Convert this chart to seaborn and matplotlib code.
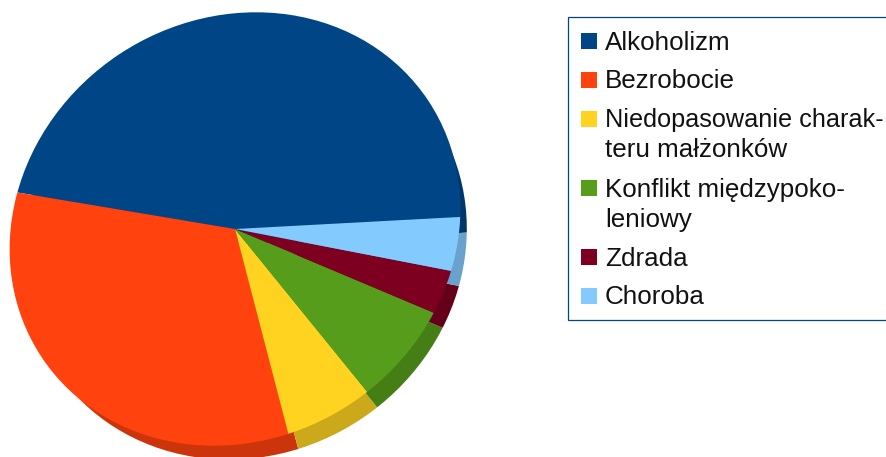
#!/usr/bin/env python3
"""
Pie chart with a fake 3D rim and a hand-placed legend box.
"""

import numpy as np
import matplotlib
matplotlib.use('Agg')
import matplotlib.pyplot as plt
import seaborn as sns
from matplotlib.patches import Ellipse, Rectangle

# Data
categories = ['Alkoholizm', 'Bezrobocie', 'Niedopasowanie charak-\nteru małżonków',
              'Konflikt międzypoko-\nleniowy', 'Zdrada', 'Choroba']
shares = [46.5, 31.7, 6.8, 7.8, 3.3, 3.9]
colors = ['#004586', '#ff420e', '#ffd320', '#579d1c', '#7e0021', '#83caff']

W, H = 887, 457
sns.set_theme(style='white')
plt.rcParams['font.family'] = ['Liberation Sans', 'DejaVu Sans']
palette = sns.color_palette(colors)
rim_palette = [tuple(np.array(c) * 0.8) for c in palette]


def draw_face(ax, center, face_colors, long_axis):
    """Draw the slices from center, cut to a tilted ellipse."""
    wedges, _ = ax.pie(shares, colors=face_colors, center=center, radius=270,
                       startangle=3.07, counterclock=True,
                       wedgeprops={'linewidth': 0})
    outline = Ellipse(center, 2 * long_axis, 2 * 209.6, angle=33.6, transform=ax.transData)
    for wedge in wedges:
        # pie switches clipping off on its wedges
        wedge.set_clip_on(True)
        wedge.set_clip_path(outline)


fig = plt.figure(figsize=(W / 100, H / 100), dpi=100)
ax = fig.add_axes([0, 0, 1, 1])

# rim first, then the top face over it
draw_face(ax, (245, H - 244.5), rim_palette, 227)
draw_face(ax, (235, H - 229), palette, 232)

ax.set_xlim(0, W)
ax.set_ylim(0, H)
ax.set_aspect('auto')
ax.axis('off')

# legend box runs off the right edge like in the original
ax.add_patch(Rectangle((568.5, H - 320), 340, 303.5, facecolor='white',
                       edgecolor='#004586', linewidth=0.9))

swatch_tops = [33, 72, 111, 180, 249, 288]
baselines = [50, 88, 127, 197, 266, 304]
line_gap = 30
for label, color, top, base in zip(categories, palette, swatch_tops, baselines):
    ax.add_patch(Rectangle((581, H - top - 16), 16, 16, facecolor=color, edgecolor='none'))
    for i, line in enumerate(label.split('\n')):
        # the long line is set a little tighter in the original
        size = 18.2 if line.endswith('charak-') else 18.7
        ax.text(605, H - base - i * line_gap, line, fontsize=size, color='#111111',
                va='baseline', ha='left')

fig.savefig('out.png', dpi=100)
plt.close(fig)
